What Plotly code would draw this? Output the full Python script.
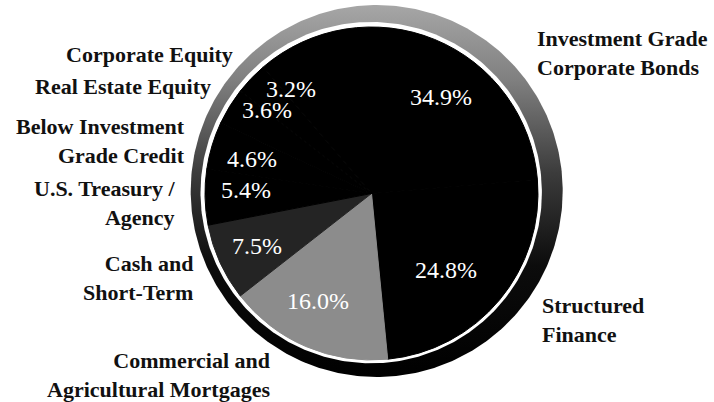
import numpy as np
import plotly.graph_objects as go

# ---- data (clockwise from the first slice) ----
categories = [
    "Investment Grade Corporate Bonds",
    "Structured Finance",
    "Commercial and Agricultural Mortgages",
    "Cash and Short-Term",
    "U.S. Treasury / Agency",
    "Below Investment Grade Credit",
    "Real Estate Equity",
    "Corporate Equity",
]
label_text = [
    "Investment Grade<br>Corporate Bonds",
    "Structured<br>Finance",
    "Commercial and<br>Agricultural Mortgages",
    "Cash and<br>Short-Term",
    "U.S. Treasury /<br>Agency",
    "Below Investment<br>Grade Credit",
    "Real Estate Equity",
    "Corporate Equity",
]
values = [34.9, 24.8, 16.0, 7.5, 5.4, 4.6, 3.6, 3.2]

# ---- styling / layout (pixel coordinates of a 714x402 canvas) ----
W, H = 714, 402
slice_colors = ["#000000", "#000000", "#8c8c8c", "#242424",
                "#000000", "#000000", "#000000", "#000000"]

# category label anchors: (x, y, xanchor, align)
cat_pos = [
    (535, 53, "left", "left"),
    (540, 320, "left", "left"),
    (272, 375, "right", "right"),
    (195, 278, "right", "right"),
    (177, 203, "right", "right"),
    (187, 141, "right", "right"),
    (213, 86, "right", "right"),
    (235, 54, "right", "right"),
]
# percent label centres
pct_pos = [
    (441, 97), (446, 270), (318, 301), (257, 246),
    (246, 190), (252, 159), (267, 110), (291, 89),
]

disk_cx, disk_cy, disk_r = 371.5, 193.5, 166.5
ring_cx, ring_cy, ring_r = 376.7, 191.0, 186.0
gap_cx, gap_cy, gap_r = 371.2, 192.6, 170.7

t = np.linspace(0, 2 * np.pi, 361)

fig = go.Figure()

# outer textured ring (gradient grey at top to black at bottom)
fig.add_trace(go.Scatter(
    x=ring_cx + ring_r * np.cos(t), y=ring_cy + ring_r * np.sin(t),
    mode="lines", line=dict(width=0), fill="toself",
    fillgradient=dict(type="vertical", start=5, stop=377,
                      colorscale=[[0, "#a6a6a6"], [0.2, "#808080"],
                                  [0.45, "#3c3c3c"], [0.7, "#0c0c0c"],
                                  [1, "#000000"]]),
    hoverinfo="skip", showlegend=False,
))
# white gap between ring and pie
fig.add_trace(go.Scatter(
    x=gap_cx + gap_r * np.cos(t), y=gap_cy + gap_r * np.sin(t),
    mode="lines", line=dict(width=0), fill="toself", fillcolor="white",
    hoverinfo="skip", showlegend=False,
))

fig.add_trace(go.Pie(
    labels=categories, values=values, sort=False, direction="clockwise",
    rotation=-40.5,
    marker=dict(colors=slice_colors,
                line=dict(width=1, color=slice_colors)),
    textinfo="none", hoverinfo="label+percent",
    domain=dict(x=[(disk_cx - disk_r) / W, (disk_cx + disk_r) / W],
                y=[(H - disk_cy - disk_r) / H, (H - disk_cy + disk_r) / H]),
    showlegend=False,
))

annotations = []
for txt, (x, y, xa, al) in zip(label_text, cat_pos):
    annotations.append(dict(
        x=x, y=y, xref="x", yref="y", text=txt, showarrow=False,
        xanchor=xa, yanchor="middle", align=al,
        font=dict(family="Liberation Serif", size=22, color="#111111",
                  weight="bold"),
    ))
for v, (x, y) in zip(values, pct_pos):
    annotations.append(dict(
        x=x, y=y, xref="x", yref="y", text=f"{v:.1f}%", showarrow=False,
        xanchor="center", yanchor="middle", borderpad=0,
        font=dict(family="Liberation Serif", size=24, color="white"),
    ))

fig.update_layout(
    width=W, height=H, autosize=False,
    margin=dict(l=0, r=0, t=0, b=0),
    paper_bgcolor="white", plot_bgcolor="white",
    xaxis=dict(range=[0, W], visible=False, fixedrange=True),
    yaxis=dict(range=[H, 0], visible=False, fixedrange=True),
    annotations=annotations,
    showlegend=False,
)

fig.write_html(
    "out.html",
    config={"displayModeBar": False},
    post_script="document.body.style.margin='0px';"
                "document.body.style.overflow='hidden';",
)
